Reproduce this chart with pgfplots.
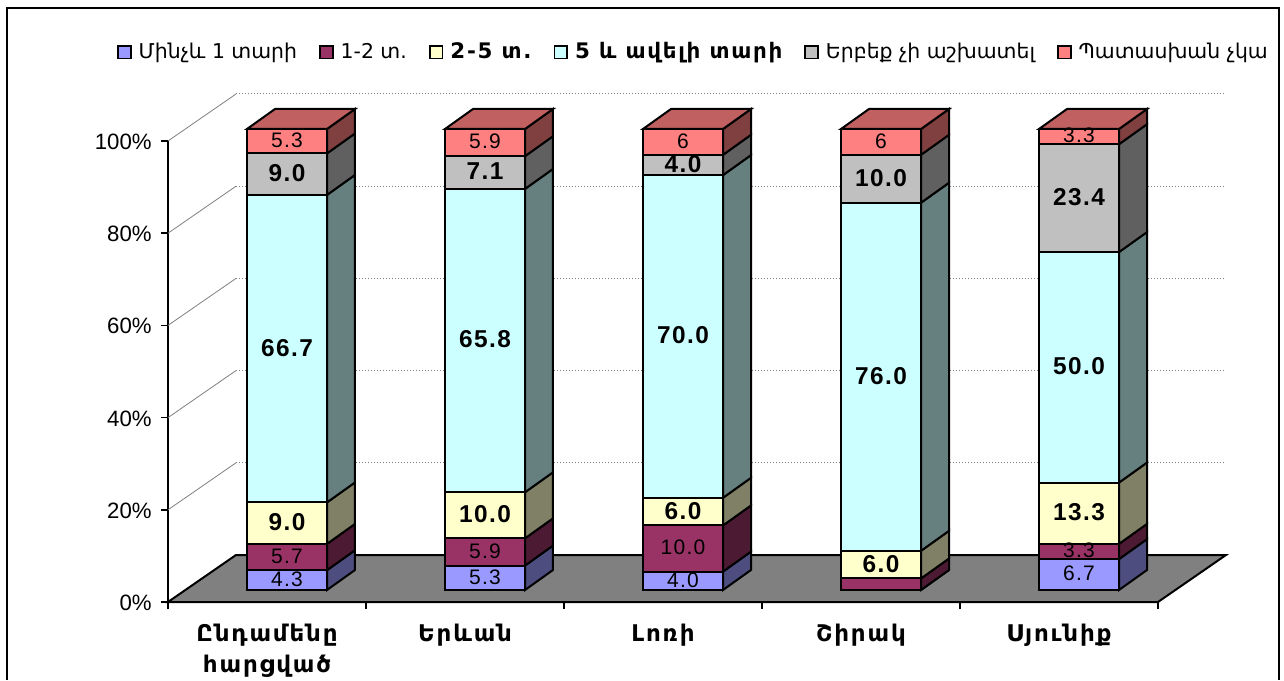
\documentclass[border=0pt]{standalone}
\usepackage{fontspec}
\usepackage{pgfplots}
\usepackage{pgfplotstable}
\pgfplotsset{compat=1.18}
\setmainfont{Liberation Sans}
\newfontfamily\valfont[LetterSpace=6]{Liberation Sans}
\newfontfamily\arm{DejaVu Sans}
\newfontfamily\armb[LetterSpace=8]{DejaVu Sans}
\newfontfamily\catfont[LetterSpace=8]{DejaVu Sans}

\definecolor{cA}{HTML}{9999FF}
\definecolor{cB}{HTML}{993366}
\definecolor{cC}{HTML}{FFFFCC}
\definecolor{cD}{HTML}{CCFFFF}
\definecolor{cE}{HTML}{C0C0C0}
\definecolor{cF}{HTML}{FF8080}
\definecolor{sA}{HTML}{4D4D80}
\definecolor{sB}{HTML}{4D1A33}
\definecolor{sC}{HTML}{808066}
\definecolor{sD}{HTML}{668080}
\definecolor{sE}{HTML}{606060}
\definecolor{sF}{HTML}{804040}
\definecolor{tF}{HTML}{C06060}

% shares per region, with the text printed on each segment
\pgfplotstableread{
x  a   la  b    lb   c    lc   d    ld   e    le   f   lf
1  4.3 4.3 5.7  5.7  9.0  9.0  66.7 66.7 9.0  9.0  5.3 5.3
2  5.3 5.3 5.9  5.9  10.0 10.0 65.8 65.8 7.1  7.1  5.9 5.9
3  4.0 4.0 10.0 10.0 6.0  6.0  70.0 70.0 4.4  4.0  5.6 6
4  0   {}  2.5  {}   6.0  6.0  75.5 76.0 10.4 10.0 5.6 6
5  6.7 6.7 3.3  3.3  13.3 13.3 50.0 50.0 23.4 23.4 3.3 3.3
}\shares

% 1 px of the reference = 0.5pt here
\pgfplotsset{
  base/.style={
    scale only axis, width=495pt, height=230.5pt,
    xmin=0.5, xmax=5.5, ymin=0, ymax=100, clip=false,
  },
}

% wall grid line: v = percent
\newcommand\wall[1]{%
  \pgfmathsetmacro\vb{#1+10.195}%
  \addplot[gray, line width=0.4pt, forget plot] coordinates {(0.5,#1) (0.8434,\vb)};
  \addplot[gray, line width=0.5pt, densely dotted, forget plot] coordinates {(0.8434,\vb) (5.8434,\vb)};
}

% side face of one segment
\newcommand\side[4]{%
  \pgfmathsetmacro\xa{#1+0.202}%
  \pgfmathsetmacro\xb{#1+0.3434}%
  \pgfmathsetmacro\ya{#2+4.338}%
  \pgfmathsetmacro\yb{#3+4.338}%
  \addplot[fill=#4, draw=black, line width=1pt, forget plot] coordinates {(\xa,#2) (\xb,\ya) (\xb,\yb) (\xa,#3)} -- cycle;
}
% top face of a column
\newcommand\topface[1]{%
  \pgfmathsetmacro\xa{#1-0.202}%
  \pgfmathsetmacro\xb{#1+0.202}%
  \pgfmathsetmacro\xc{#1+0.3434}%
  \pgfmathsetmacro\xd{#1-0.0606}%
  \addplot[fill=tF, draw=black, line width=1pt, forget plot] coordinates {(\xa,100) (\xd,104.338) (\xc,104.338) (\xb,100)} -- cycle;
}
% all side faces of a column, from the values
\newcommand\column[7]{%
  \pgfmathsetmacro\sa{#2}\pgfmathsetmacro\sb{\sa+#3}\pgfmathsetmacro\sc{\sb+#4}%
  \pgfmathsetmacro\sd{\sc+#5}\pgfmathsetmacro\se{\sd+#6}%
  \side{#1}{0}{\sa}{sA}\side{#1}{\sa}{\sb}{sB}\side{#1}{\sb}{\sc}{sC}%
  \side{#1}{\sc}{\sd}{sD}\side{#1}{\sd}{\se}{sE}\side{#1}{\se}{100}{sF}%
  \topface{#1}%
}

\begin{document}
\begin{tikzpicture}
\path[use as bounding box, fill=white] (0,0) rectangle (642pt,340pt);
\draw[line width=1pt] (3.5pt,0) -- (3.5pt,336pt) -- (639.5pt,336pt) -- (639.5pt,0);

% walls, floor, ticks
\begin{axis}[base, at={(84pt,39pt)},
    axis x line=bottom, axis y line=left, axis line style={-, line width=1pt},
    tick align=outside, tick style={black, line width=0.8pt},
    major tick length=3.5pt,
    /pgf/number format/assume math mode=true,
    ytick={0,20,40,60,80,100},
    yticklabel={\pgfmathprintnumber{\tick}\%},
    yticklabel style={font=\fontsize{11.1}{12}\selectfont, inner sep=1pt, xshift=-3.5pt, yshift=-0.4pt},
    xtick={0.5,1.5,2.5,3.5,4.5,5.5}, xticklabels={},
    extra x ticks={1,2,3,4,5},
    extra x tick style={major tick length=0pt},
    extra x tick labels={{Ընդամենը\\հարցված},Երևան,Լոռի,Շիրակ,Սյունիք},
    xticklabel style={font=\catfont\bfseries\fontsize{11.5}{15.5}\selectfont, align=center, anchor=north, yshift=-7.5pt},
  ]
  \addplot[fill=gray, draw=black, line width=1pt, forget plot] coordinates {(0.5,0) (0.8434,10.195) (5.8434,10.195) (5.5,0)} -- cycle;
  \wall{20}\wall{40}\wall{60}\wall{80}\wall{100}
\end{axis}

% side and top faces of the columns
\begin{axis}[base, at={(94pt,45pt)}, axis lines=none]
  \column{1}{4.3}{5.7}{9.0}{66.7}{9.0}{5.3}
  \column{2}{5.3}{5.9}{10.0}{65.8}{7.1}{5.9}
  \column{3}{4.0}{10.0}{6.0}{70.0}{4.4}{5.6}
  \column{4}{0}{2.5}{6.0}{75.5}{10.4}{5.6}
  \column{5}{6.7}{3.3}{13.3}{50.0}{23.4}{3.3}
\end{axis}

% front faces, value labels, legend
\begin{axis}[base, at={(94pt,45pt)}, axis lines=none,
    ybar stacked, bar width=40pt,
    point meta=explicit symbolic,
    nodes near coords,
    every node near coord/.append style={anchor=center, inner sep=0pt, text=black, yshift=0.5pt},
    legend columns=6,
    legend style={at={(0.5116,1.167)}, anchor=center, draw=none, fill=none,
      font=\arm\fontsize{10.2}{12}\selectfont, inner sep=0pt,
      /tikz/every odd column/.append style={column sep=1.5pt},
      /tikz/every even column/.append style={column sep=9pt}},
    legend image code/.code={\draw[#1, line width=0.9pt] (0pt,-3.2pt) rectangle (6.4pt,3.2pt);},
    regu/.style={nodes near coords style={font=\valfont\fontsize{10.5}{12}\selectfont}},
    bold/.style={nodes near coords style={font=\valfont\bfseries\fontsize{12.2}{13}\selectfont}},
  ]
  \addplot[fill=cA, draw=black, line width=1pt, regu] table[x=x, y=a, meta=la] {\shares};
  \addplot[fill=cB, draw=black, line width=1pt, regu] table[x=x, y=b, meta=lb] {\shares};
  \addplot[fill=cC, draw=black, line width=1pt, bold] table[x=x, y=c, meta=lc] {\shares};
  \addplot[fill=cD, draw=black, line width=1pt, bold] table[x=x, y=d, meta=ld] {\shares};
  \addplot[fill=cE, draw=black, line width=1pt, bold] table[x=x, y=e, meta=le] {\shares};
  \addplot[fill=cF, draw=black, line width=1pt, regu] table[x=x, y=f, meta=lf] {\shares};
  \addlegendentry{Մինչև 1 տարի}
  \addlegendentry{1-2 տ.}
  \addlegendentry{\armb\bfseries\fontsize{10.7}{12}\selectfont 2-5 տ.}
  \addlegendentry{\armb\bfseries\fontsize{10.7}{12}\selectfont 5 և ավելի տարի}
  \addlegendentry{Երբեք չի աշխատել}
  \addlegendentry{Պատասխան չկա}
\end{axis}
\end{tikzpicture}
\end{document}
